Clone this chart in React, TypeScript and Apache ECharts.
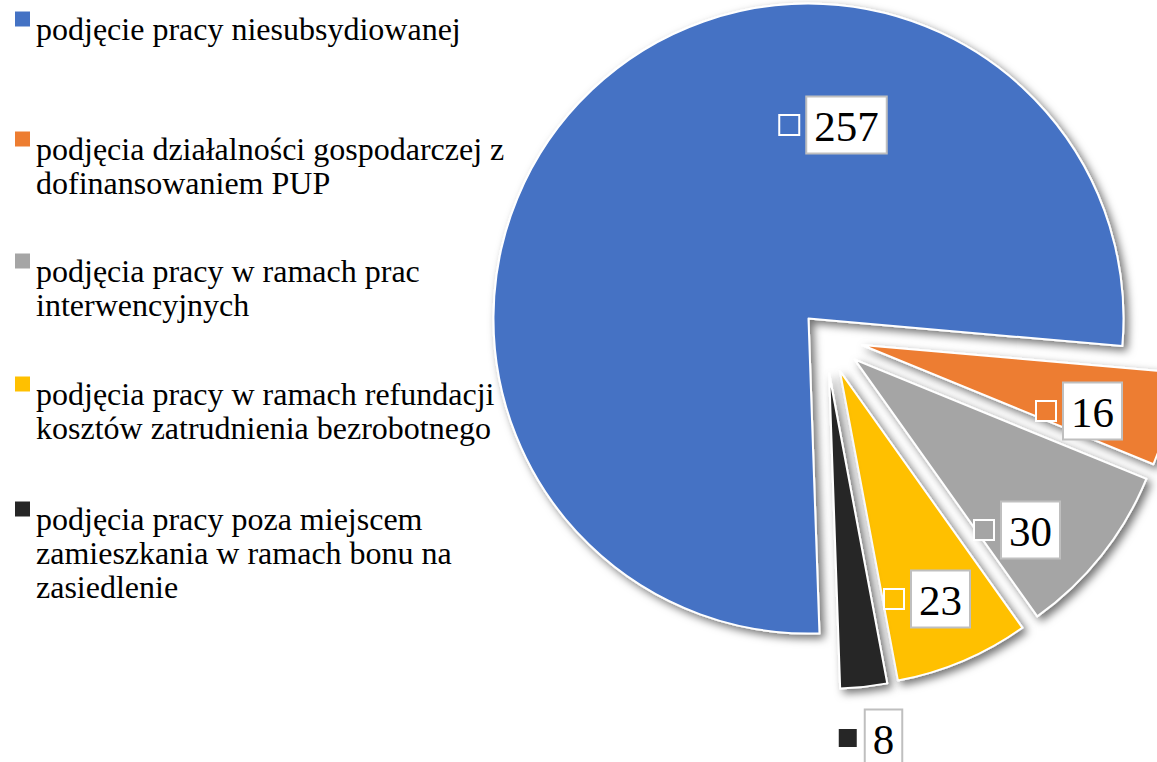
import React, { useEffect, useRef } from "react";
import * as echarts from "echarts";

const CATEGORIES = [
  "podjęcie pracy niesubsydiowanej",
  "podjęcia działalności gospodarczej z dofinansowaniem PUP",
  "podjęcia pracy w ramach prac interwencyjnych",
  "podjęcia pracy w ramach refundacji kosztów zatrudnienia bezrobotnego",
  "podjęcia pracy poza miejscem zamieszkania w ramach bonu na zasiedlenie",
];
const LEGEND_LINES = [
  ["podjęcie pracy niesubsydiowanej"],
  ["podjęcia działalności gospodarczej z", "dofinansowaniem PUP"],
  ["podjęcia pracy w ramach prac", "interwencyjnych"],
  ["podjęcia pracy w ramach refundacji", "kosztów zatrudnienia bezrobotnego"],
  ["podjęcia pracy poza miejscem", "zamieszkania w ramach bonu na", "zasiedlenie"],
];
const VALUES = [257, 16, 30, 23, 8];
const COLORS = ["#4472C4", "#ED7D31", "#A5A5A5", "#FFC000", "#262626"];

// layout (not data)
const LEGEND_TOPS = [3, 123, 245, 368, 493];
const LABEL_POS: [number, number][] = [
  [833, 125],
  [1079, 411],
  [1017, 530],
  [927, 599],
  [870, 738],
];
const CENTER: [number, number] = [825, 336];
const RADIUS = 315;
const SERIF = "Liberation Serif";

const hiddenItem = (v: number, i: number) => ({
  value: v,
  name: "_hidden_" + i,
  itemStyle: {
    color: "rgba(0,0,0,0)",
    borderWidth: 0,
    shadowBlur: 0,
    shadowColor: "rgba(0,0,0,0)",
  },
});

const makeSeries = (visible: number[], offset: number) => ({
  type: "pie",
  center: CENTER,
  radius: RADIUS,
  startAngle: -88,
  clockwise: true,
  selectedMode: "multiple",
  selectedOffset: offset,
  avoidLabelOverlap: false,
  emphasis: { disabled: true },
  label: { show: false },
  labelLine: { show: false },
  itemStyle: {
    borderColor: "#fff",
    borderWidth: 2,
    shadowBlur: 9,
    shadowOffsetX: 4,
    shadowOffsetY: 4,
    shadowColor: "rgba(0,0,0,0.55)",
  },
  data: VALUES.map((v, i) =>
    visible.includes(i)
      ? {
          value: v,
          name: CATEGORIES[i],
          selected: true,
          itemStyle: { color: COLORS[i] },
        }
      : hiddenItem(v, i)
  ),
});

const makeLabels = () =>
  VALUES.map((v, i) => ({
    type: "text",
    x: LABEL_POS[i][0],
    y: LABEL_POS[i][1],
    z: 100,
    silent: true,
    style: {
      text: `{sq|}{g|}{num|${v}}`,
      align: "center",
      verticalAlign: "middle",
      fontFamily: SERIF,
      fontSize: 43,
      fill: "#000",
      rich: {
        sq: {
          width: 18,
          height: 18,
          lineHeight: 18,
          backgroundColor: COLORS[i],
          borderColor: "#fff",
          borderWidth: 2,
        },
        g: { width: 9 },
        num: {
          fontFamily: SERIF,
          fontSize: 43,
          lineHeight: 43,
          fill: "#000",
          backgroundColor: "#fff",
          borderColor: "#bfbfbf",
          borderWidth: 2,
          padding: [7, 7, 5, 7],
        },
      },
    },
  }));

export default function App() {
  const ref = useRef<HTMLDivElement>(null);
  useEffect(() => {
    if (!ref.current) return;
    const chart = echarts.init(ref.current, null, { renderer: "svg" });
    const legends = CATEGORIES.map((name, i) => ({
      show: true,
      orient: "vertical",
      left: 9,
      top: LEGEND_TOPS[i],
      padding: 0,
      itemWidth: 0,
      itemHeight: 0,
      itemStyle: { opacity: 0 },
      selectedMode: false,
      data: [name],
      formatter: () =>
        LEGEND_LINES[i]
          .map((l, j) => (j === 0 ? `{sq|}{g|}{t|${l}}` : `{ind|}{t|${l}}`))
          .join("\n"),
      textStyle: {
        fontFamily: SERIF,
        fontSize: 32,
        lineHeight: 34,
        color: "#000",
        rich: {
          sq: {
            width: 15,
            height: 15,
            lineHeight: 15,
            backgroundColor: COLORS[i],
            verticalAlign: "top",
          },
          g: { width: 6 },
          ind: { width: 21 },
          t: { fontFamily: SERIF, fontSize: 32, lineHeight: 34, color: "#000" },
        },
      },
    }));
    chart.setOption({
      animation: false,
      backgroundColor: "#fff",
      legend: legends,
      series: [makeSeries([0], 24), makeSeries([1, 2, 3, 4], 38)],
      graphic: makeLabels(),
    });
    return () => chart.dispose();
  }, []);
  return (
    <div
      ref={ref}
      style={{ position: "fixed", left: 0, top: 0, width: 1157, height: 762 }}
    />
  );
}
